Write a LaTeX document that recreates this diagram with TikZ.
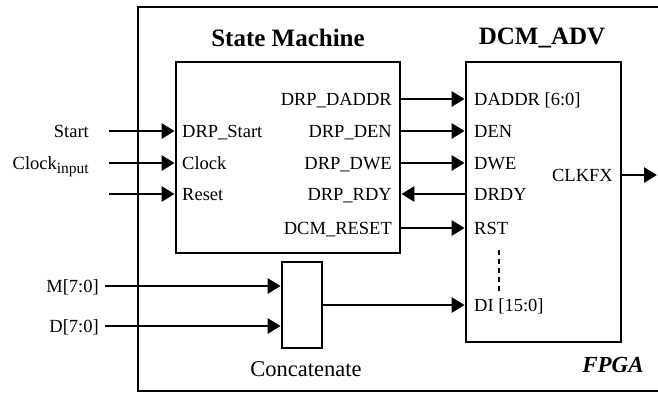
\documentclass[tikz,border=0pt]{standalone}
\usepackage{fontspec}
\setmainfont{Liberation Serif}
\usetikzlibrary{arrows.meta}

\begin{document}
\begin{tikzpicture}[x=1pt,y=-1pt]
		\tikzset{>={Triangle[length=13pt,width=15pt]}}
		\tikzset{blk/.style={draw,line width=2.8pt,inner sep=0pt},
			sig/.style={->,line width=2.8pt},
			port/.style={inner sep=0pt,text height=12.5pt,text depth=0pt,font=\fontsize{18.5}{22}\selectfont},
			title/.style={inner sep=0pt,font=\fontsize{25}{30}\selectfont\bfseries}}
		
		\useasboundingbox (0,0) rectangle (658,392);
		\clip (0,0) rectangle (658,392);
		
		\node[blk,minimum width=562pt,minimum height=384pt] (fpga) at (419,199) {};
		\node[blk,minimum width=224pt,minimum height=191pt] (sm) at (288,157.5) {};
		\node[blk,minimum width=155pt,minimum height=280pt] (dcm) at (543.5,202) {};
		\node[blk,minimum width=40pt,minimum height=86pt] (cat) at (302,305) {};
		
		\node[title] (smtitle) at (288,38) {State Machine};
		\node[title] (dcmtitle) at (542,38) {DCM\_ADV};
		\node[port,font=\fontsize{22.5}{26}\selectfont,text height=15pt] (cattitle) at (306,369) {Concatenate};
		\node[title,font=\fontsize{23}{28}\selectfont\bfseries\itshape] (fpgatitle) at (613,365) {FPGA};
		
		\node[port,anchor=west] (pstart) at (182,131) {DRP\_Start};
		\node[port,anchor=west] (pclk) at (182,163) {Clock};
		\node[port,anchor=west] (preset) at (182,194) {Reset};
		
		\node[port,anchor=east] (qaddr) at (392,99) {DRP\_DADDR};
		\node[port,anchor=east] (qden) at (392,131) {DRP\_DEN};
		\node[port,anchor=east] (qdwe) at (392,163) {DRP\_DWE};
		\node[port,anchor=east] (qrdy) at (392,194) {DRP\_RDY};
		\node[port,anchor=east] (qrst) at (392,228) {DCM\_RESET};
		
		\node[port,anchor=west] (daddr) at (474,99) {DADDR [6:0]};
		\node[port,anchor=west] (dden) at (474,131) {DEN};
		\node[port,anchor=west] (ddwe) at (474,163) {DWE};
		\node[port,anchor=west] (ddrdy) at (474,194) {DRDY};
		\node[port,anchor=west] (drst) at (474,228) {RST};
		\node[port,anchor=west] (ddi) at (474,305) {DI [15:0]};
		\node[port,anchor=east] (dclk) at (613,175) {CLKFX};
		
		\node[port,anchor=east] (start) at (89,131) {Start};
		\node[port,anchor=east] (clk) at (89,163) {Clock{\fontsize{15.5}{18}\selectfont\raisebox{-4pt}{input}}};
		\node[port,anchor=east] (m) at (99,286) {M[7:0]};
		\node[port,anchor=east] (d) at (99,326) {D[7:0]};
		\coordinate (rstin) at (109,194);
		\coordinate (clkout) at (657,175);
		\coordinate (dtop) at (499,250);
		\coordinate (dbot) at (499,294);
		
		\draw[sig] ([xshift=20pt]start.east) -- (sm.west |- start.east);
		\draw[sig] ([xshift=20pt]clk.east |- pclk.west) -- (sm.west |- pclk.west);
		\draw[sig] (rstin) -- (sm.west |- rstin);
		
		\draw[sig] (sm.east |- qaddr.east) -- (dcm.west |- daddr.west);
		\draw[sig] (sm.east |- qden.east) -- (dcm.west |- dden.west);
		\draw[sig] (sm.east |- qdwe.east) -- (dcm.west |- ddwe.west);
		\draw[sig] (dcm.west |- ddrdy.west) -- (sm.east |- qrdy.east);
		\draw[sig] (sm.east |- qrst.east) -- (dcm.west |- drst.west);
		
		\draw[sig] ([xshift=6pt]m.east) -- (cat.west |- m.east);
		\draw[sig] ([xshift=6pt]d.east) -- (cat.west |- d.east);
		\draw[sig] (cat.east) -- (dcm.west |- ddi.west);
		\draw[sig] (dcm.east |- dclk.east) -- (clkout);
		
		\draw[line width=2.5pt,dash pattern=on 5pt off 4pt] (dtop) -- (dbot);
		
	\end{tikzpicture}
\end{document}
